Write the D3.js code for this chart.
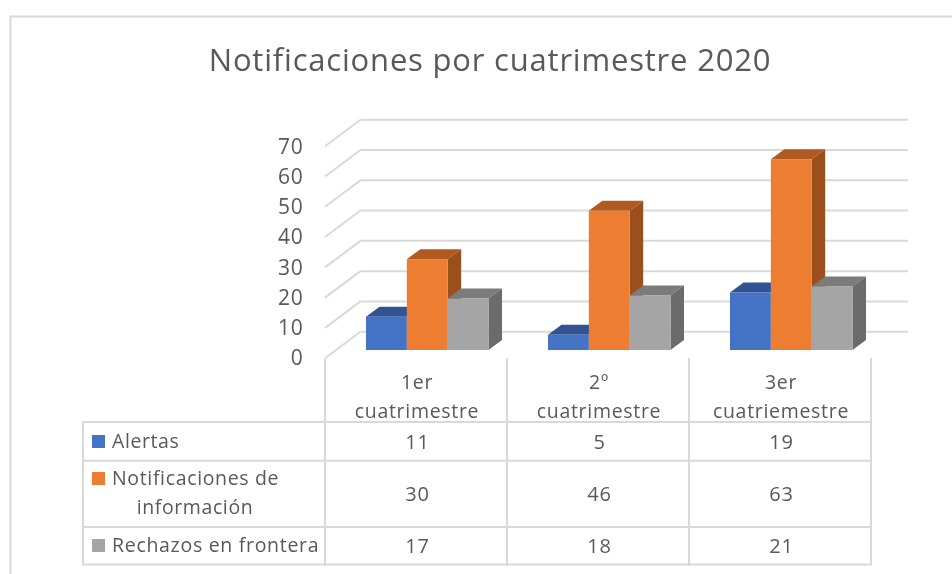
<!DOCTYPE html>
<html><head><meta charset="utf-8">
<script src="https://cdn.jsdelivr.net/npm/d3@7"></script>
<style>html,body{margin:0;padding:0;background:#fff}svg{display:block;filter:blur(0.45px)}text{font-family:"Open Sans","Noto Sans",sans-serif;fill:#595959}</style>
</head><body><svg id="c" width="952" height="574"></svg>
<script>
const titleText = "Notificaciones por cuatrimestre 2020";
const categories = [["1er","cuatrimestre"],["2º","cuatrimestre"],["3er","cuatriemestre"]];
const seriesNames = [["Alertas"],["Notificaciones de","información"],["Rechazos en frontera"]];
const alertas = [11,5,19];
const notificaciones = [30,46,63];
const rechazos = [17,18,21];
const yTicks = [0,10,20,30,40,50,60,70];
const colors = ["#4472c4","#ed7d31","#a5a5a5"];
const tops = ["#325393","#ae5a21","#7b7b7b"];
const sides = ["#2c4a82","#9a4f1c","#6b6b6b"];
const seriesVals = [alertas,notificaciones,rechazos];

const svg = d3.select("#c");
const gridC = "#d9d9d9";
const depth = {x:13.5,y:-10};
const wall = {x:35.5,y:-26.5};
const y = d3.scaleLinear().domain([0,70]).range([350,138]);
const yLabel = d3.scaleLinear().domain([0,70]).range([365,154]);
const x = d3.scaleBand().domain(d3.range(3)).range([325,871]);
const sub = d3.scaleBand().domain(d3.range(3)).range([41,163.5]);
const line=(x1,y1,x2,y2,w=2,c=gridC)=>svg.append("line").attr("x1",x1).attr("y1",y1).attr("x2",x2).attr("y2",y2).attr("stroke",c).attr("stroke-width",w);
const label=(tx,ty,s,size,spacing,anchor)=>svg.append("text").attr("x",tx).attr("y",ty)
  .attr("text-anchor",anchor||"start").attr("font-size",size).attr("letter-spacing",spacing).text(s);

// frame
svg.append("path").attr("d","M10.5,574V16.5H952").attr("fill","none").attr("stroke",gridC).attr("stroke-width",2);
label(490,71,titleText,31,0.8,"middle");

// gridlines and value axis
yTicks.forEach(t=>{
  const yf=y(t)+8.2;
  line(325,yf,325+wall.x,yf+wall.y);
  line(325+wall.x,yf+wall.y,908,yf+wall.y);
  label(303.5,yLabel(t),t,21,0.8,"end");
});

// bars
categories.forEach((_,ci)=>{
  seriesVals.forEach((vals,si)=>{
    const bx=x(ci)+sub(si), bw=sub.bandwidth(), by=y(vals[ci]), b=y(0);
    const dx=depth.x, dy=depth.y;
    svg.append("path").attr("fill",tops[si]).attr("d",`M${bx},${by}l${dx},${dy}h${bw}l${-dx},${-dy}z`);
    svg.append("path").attr("fill",sides[si]).attr("d",`M${bx+bw},${by}l${dx},${dy}V${b+dy}l${-dx},${-dy}z`);
    svg.append("rect").attr("x",bx).attr("y",by).attr("width",bw).attr("height",b-by).attr("fill",colors[si]);
  });
});

// data table
const rowsY=[422,460.7,527,564.5];
const left=83;
rowsY.forEach(r=>line(left,r,871,r));
line(left,421,left,565.5);
d3.range(4).forEach(i=>line(325+182*i,358,325+182*i,565.5));
categories.forEach((lines,ci)=>{
  const cx=x(ci)+x.bandwidth()/2+1;
  lines.forEach((l,k)=>label(cx,389+k*28.7,l,19.5,0.7,"middle"));
  seriesVals.forEach((vals,si)=>{
    label(cx+0.5,[449,500.7,553][si],vals[ci],20,0.8,"middle");
  });
});
seriesNames.forEach((lines,si)=>{
  const ky=[435,472,539][si];
  svg.append("rect").attr("x",92).attr("y",ky).attr("width",13).attr("height",13).attr("fill",colors[si]);
  if(lines.length==1){
    label(112,[447.7,0,551.7][si],lines[0],19.5,si==2?0.7:0.6);
  } else {
    label(112,485,lines[0],19.5,0.65);
    label(195,514,lines[1],19.5,0.6,"middle");
  }
});
</script></body></html>
